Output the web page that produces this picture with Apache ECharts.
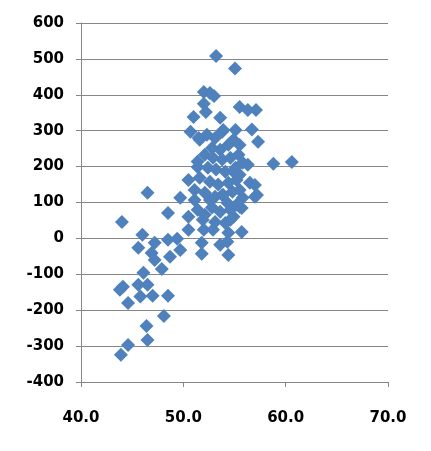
<!DOCTYPE html>
<html><head><meta charset="utf-8">
<script src="https://cdn.jsdelivr.net/npm/echarts@6/dist/echarts.min.js"></script>
<style>html,body{margin:0;padding:0;background:#fff}#c{width:431px;height:451px}</style>
</head><body><div id="c"></div>
<script>
const xTicks = [40, 50, 60, 70];
const yTicks = [-400, -300, -200, -100, 0, 100, 200, 300, 400, 500, 600];
const xValues = [
  53.2,55.05,52.0,52.6,53.0,52.0,52.2,55.5,56.3,57.1,51.0,53.6,56.7,50.7,51.5,53.9,55.1,57.3,55.5,58.8,60.6,50.5,51.4,54.9,56.5,57.0,57.2,55.5,55.8,57.0,55.7,
  46.5,49.7,48.5,44.0,50.5,52.0,52.9,54.4,55.7,46.0,45.6,47.2,48.5,49.4,49.7,46.9,47.2,48.7,47.9,51.8,51.8,53.6,54.3,54.4,46.1,44.1,43.8,45.6,46.5,45.8,44.6,47.0,48.5,48.1,46.4,46.5,44.6,43.9,54.9,51.9,50.5,51.4,51.1,52.6,54.3,53.9,55.5,54.1,
  51.6,52.3,53.1,53.8,52.8,53.6,54.4,54.9,52.1,52.9,53.8,54.6,55.4,51.4,52.4,53.2,54.1,55.1,55.8,51.6,52.6,53.4,54.4,55.2,51.1,52.1,53.1,53.8,54.8,55.5,52.8,53.6,54.6,55.2,52.1,53.1,54.6,56.3
];
const yValues = [
  508,473,408,405,397,375,352,366,358,358,338,336,303,297,280,302,302,269,260,208,213,163,199,186,155,149,121,177,113,116,85,
  127,113,71,46,24,24,24,16,18,10,-26,-12,-4,-1,-32,-41,-60,-51,-85,-12,-43,-18,-9,-46,-96,-135,-143,-129,-129,-162,-180,-160,-160,-216,-244,-283,-297,-324,60,52,60,80,107,107,99,121,88,43,
  275,289,280,297,252,247,261,275,233,225,220,225,233,214,197,192,186,197,211,169,158,150,155,163,135,127,116,121,130,135,86,74,80,94,66,46,52,205
];
const points = xValues.map((x, i) => [x, yValues[i]]);
const chart = echarts.init(document.getElementById('c'));
const labelStyle = {color:'#000', fontFamily:'DejaVu Sans', fontWeight:'bold', fontSize:15};
chart.setOption({
  animation:false,
  grid:{left:81, right:43, top:23, bottom:69},
  xAxis:{type:'value', min:xTicks[0], max:xTicks[xTicks.length-1], interval:10,
    axisLine:{show:true, onZero:false, lineStyle:{color:'#868686'}},
    axisTick:{show:true, length:5, lineStyle:{color:'#868686'}},
    splitLine:{show:false},
    axisLabel:Object.assign({margin:29, formatter:v=>v.toFixed(1)}, labelStyle)},
  yAxis:{type:'value', min:yTicks[0], max:yTicks[yTicks.length-1], interval:100,
    axisLine:{show:true, lineStyle:{color:'#868686'}},
    axisTick:{show:true, length:5, lineStyle:{color:'#868686'}},
    splitLine:{show:true, lineStyle:{color:'#868686'}},
    axisLabel:Object.assign({margin:17}, labelStyle)},
  series:[{type:'scatter', symbol:'diamond', symbolSize:14, data:points,
    itemStyle:{color:'#4F81BD', opacity:1}}]
});
</script></body></html>
